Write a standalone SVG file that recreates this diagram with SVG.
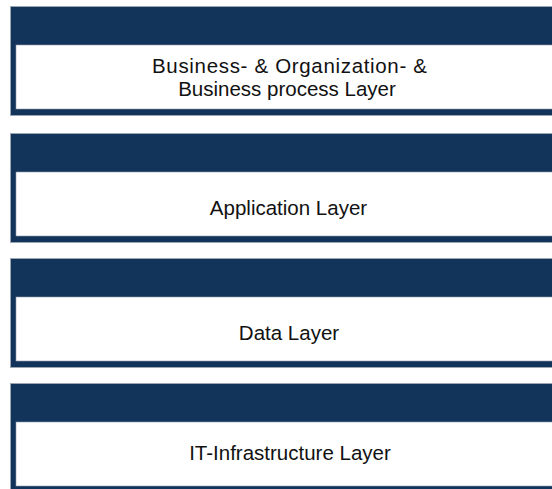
<svg xmlns="http://www.w3.org/2000/svg" width="552" height="489" viewBox="0 0 552 489">
  <style>
    .frame { fill: #13345a; stroke: #9aa6b4; stroke-width: 1; }
    .body { fill: #ffffff; stroke: #8f9cab; stroke-width: 0.6; }
    .label { font-family: "Liberation Sans", Arial, sans-serif; font-size: 20.5px; fill: #111111; text-anchor: middle; }
  </style>
  <rect width="552" height="489" fill="#ffffff"/>

  <g id="layer-business">
    <rect class="frame" x="10.5" y="6.5" width="560" height="109"/>
    <rect class="body" x="16" y="45" width="560" height="64"/>
    <text class="label" x="289.5" y="73" textLength="275" lengthAdjust="spacing">Business- &amp; Organization- &amp;</text>
    <text class="label" x="287" y="96">Business process Layer</text>
  </g>

  <g id="layer-application">
    <rect class="frame" x="10.5" y="133.5" width="560" height="109"/>
    <rect class="body" x="16" y="172" width="560" height="64"/>
    <text class="label" x="288.5" y="215">Application Layer</text>
  </g>

  <g id="layer-data">
    <rect class="frame" x="10.5" y="258.5" width="560" height="109"/>
    <rect class="body" x="16" y="297" width="560" height="64"/>
    <text class="label" x="289" y="340">Data Layer</text>
  </g>

  <g id="layer-infrastructure">
    <rect class="frame" x="10.5" y="383.5" width="560" height="109"/>
    <rect class="body" x="16" y="422" width="560" height="64"/>
    <text class="label" x="290" y="460">IT-Infrastructure Layer</text>
  </g>

  <g id="connectors"/>
</svg>
